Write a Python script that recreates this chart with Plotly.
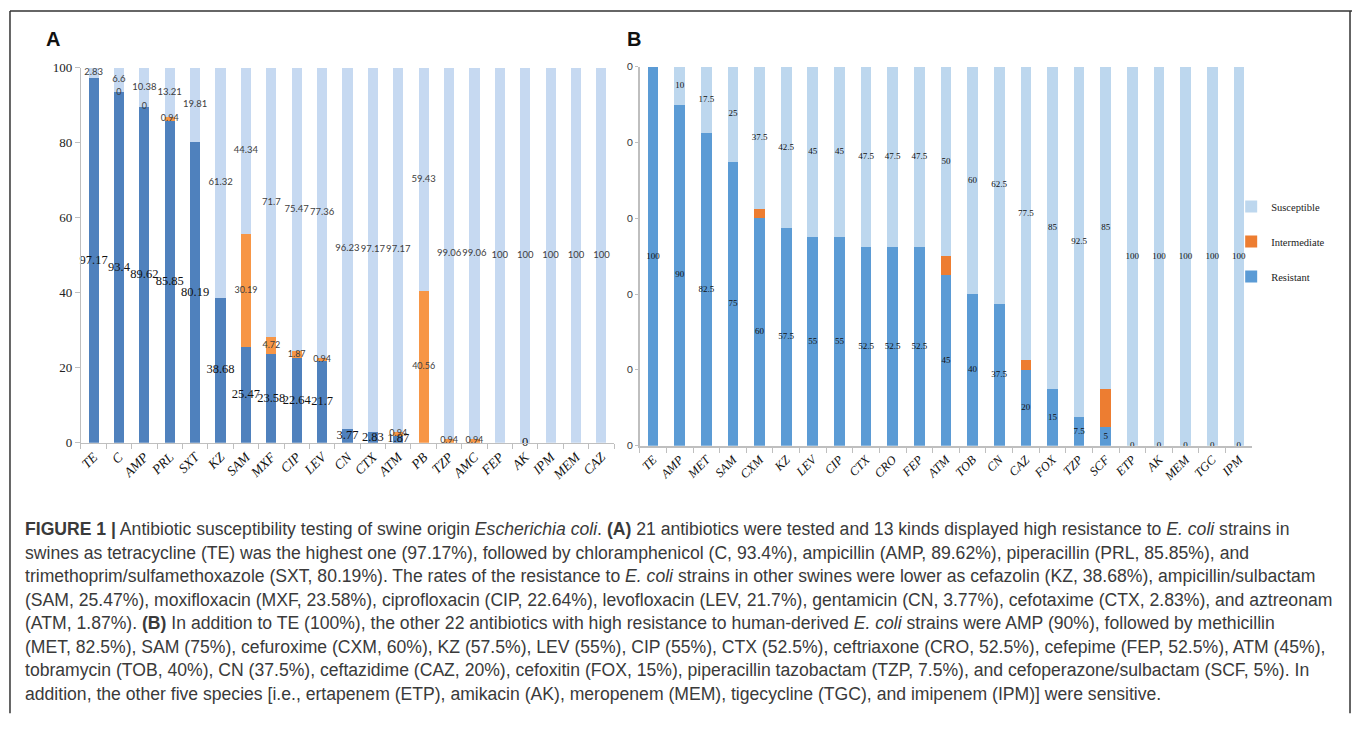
import plotly.graph_objects as go

# ---------------- Panel A: swine-origin E. coli ----------------
a_drugs = ["TE", "C", "AMP", "PRL", "SXT", "KZ", "SAM", "MXF", "CIP", "LEV", "CN",
           "CTX", "ATM", "PB", "TZP", "AMC", "FEP", "AK", "IPM", "MEM", "CAZ"]
a_resistant = [97.17, 93.4, 89.62, 85.85, 80.19, 38.68, 25.47, 23.58, 22.64, 21.7, 3.77,
               2.83, 1.87, 0, 0, 0, 0, 0, 0, 0, 0]
a_intermediate = [0, 0, 0, 0.94, 0, 0, 30.19, 4.72, 1.87, 0.94, 0,
                  0, 0.94, 40.56, 0.94, 0.94, 0, 0, 0, 0, 0]
a_susceptible = [2.83, 6.6, 10.38, 13.21, 19.81, 61.32, 44.34, 71.7, 75.47, 77.36, 96.23,
                 97.17, 97.17, 59.43, 99.06, 99.06, 100, 100, 100, 100, 100]
a_zero_int_shown = ["C", "AMP"]
a_zero_res_shown = ["AK"]

# ---------------- Panel B: human-derived E. coli ----------------
b_drugs = ["TE", "AMP", "MET", "SAM", "CXM", "KZ", "LEV", "CIP", "CTX", "CRO", "FEP", "ATM",
           "TOB", "CN", "CAZ", "FOX", "TZP", "SCF", "ETP", "AK", "MEM", "TGC", "IPM"]
b_resistant = [100, 90, 82.5, 75, 60, 57.5, 55, 55, 52.5, 52.5, 52.5, 45,
               40, 37.5, 20, 15, 7.5, 5, 0, 0, 0, 0, 0]
b_intermediate = [0, 0, 0, 0, 2.5, 0, 0, 0, 0, 0, 0, 5,
                  0, 0, 2.5, 0, 0, 10, 0, 0, 0, 0, 0]
b_susceptible = [0, 10, 17.5, 25, 37.5, 42.5, 45, 45, 47.5, 47.5, 47.5, 50,
                 60, 62.5, 77.5, 85, 92.5, 85, 100, 100, 100, 100, 100]

y_ticks = [0, 20, 40, 60, 80, 100]
b_tick_text = ["0", "0", "0", "0", "0", "0"]

caption_lines = [
    "<b>FIGURE 1 |</b> Antibiotic susceptibility testing of swine origin <i>Escherichia coli</i>. <b>(A)</b> 21 antibiotics were tested and 13 kinds displayed high resistance to <i>E. coli</i> strains in",
    "swines as tetracycline (TE) was the highest one (97.17%), followed by chloramphenicol (C, 93.4%), ampicillin (AMP, 89.62%), piperacillin (PRL, 85.85%), and",
    "trimethoprim/sulfamethoxazole (SXT, 80.19%). The rates of the resistance to <i>E. coli</i> strains in other swines were lower as cefazolin (KZ, 38.68%), ampicillin/sulbactam",
    "(SAM, 25.47%), moxifloxacin (MXF, 23.58%), ciprofloxacin (CIP, 22.64%), levofloxacin (LEV, 21.7%), gentamicin (CN, 3.77%), cefotaxime (CTX, 2.83%), and aztreonam",
    "(ATM, 1.87%). <b>(B)</b> In addition to TE (100%), the other 22 antibiotics with high resistance to human-derived <i>E. coli</i> strains were AMP (90%), followed by methicillin",
    "(MET, 82.5%), SAM (75%), cefuroxime (CXM, 60%), KZ (57.5%), LEV (55%), CIP (55%), CTX (52.5%), ceftriaxone (CRO, 52.5%), cefepime (FEP, 52.5%), ATM (45%),",
    "tobramycin (TOB, 40%), CN (37.5%), ceftazidime (CAZ, 20%), cefoxitin (FOX, 15%), piperacillin tazobactam (TZP, 7.5%), and cefoperazone/sulbactam (SCF, 5%). In",
    "addition, the other five species [i.e., ertapenem (ETP), amikacin (AK), meropenem (MEM), tigecycline (TGC), and imipenem (IPM)] were sensitive.",
]

W, H = 1357, 729
def px(x):
    return x / W
def py(y):
    return 1 - y / H

SERIF = "Liberation Serif, Times New Roman, serif"
SANS = "Liberation Sans, Arial, sans-serif"
LATO = "Lato, Carlito, Calibri, sans-serif"

def fmt(v):
    return f"{v:g}"

fig = go.Figure()

# ---- Panel A bars ----
A_COL = {"Resistant": "#4F81BD", "Intermediate": "#F79646", "Susceptible": "#C6D9F1"}
for name, vals in [("Resistant", a_resistant), ("Intermediate", a_intermediate),
                   ("Susceptible", a_susceptible)]:
    fig.add_trace(go.Bar(x=a_drugs, y=vals, name=name, marker_color=A_COL[name],
                         marker_line_width=0, width=0.4, showlegend=False,
                         xaxis="x", yaxis="y"))

# Panel A labels
res_x, res_y, res_t = [], [], []
int_x, int_y, int_t = [], [], []
sus_x, sus_y, sus_t = [], [], []
for d, r, i, s in zip(a_drugs, a_resistant, a_intermediate, a_susceptible):
    if r > 0 or d in a_zero_res_shown:
        res_x.append(d); res_y.append(r / 2); res_t.append(fmt(r))
    if i > 0 or d in a_zero_int_shown:
        int_x.append(d); int_y.append(r + i / 2); int_t.append(fmt(i))
    sus_x.append(d); sus_y.append(r + i + s / 2); sus_t.append(fmt(s))

fig.add_trace(go.Scatter(x=res_x, y=res_y, text=res_t, mode="text", showlegend=False,
                         textfont=dict(family=SERIF, size=12.5, color="#111111"),
                         hoverinfo="skip", cliponaxis=False, xaxis="x", yaxis="y"))
fig.add_trace(go.Scatter(x=int_x, y=int_y, text=int_t, mode="text", showlegend=False,
                         textfont=dict(family=LATO, size=9, color="#404040"),
                         hoverinfo="skip", cliponaxis=False, xaxis="x", yaxis="y"))
fig.add_trace(go.Scatter(x=sus_x, y=sus_y, text=sus_t, mode="text", showlegend=False,
                         textfont=dict(family=LATO, size=9.5, color="#404040"),
                         hoverinfo="skip", cliponaxis=False, xaxis="x", yaxis="y"))

# ---- Panel B bars ----
B_COL = {"Resistant": "#5B9BD5", "Intermediate": "#ED7D31", "Susceptible": "#BDD7EE"}
B_RANK = {"Susceptible": 1, "Intermediate": 2, "Resistant": 3}
for name, vals in [("Resistant", b_resistant), ("Intermediate", b_intermediate),
                   ("Susceptible", b_susceptible)]:
    fig.add_trace(go.Bar(x=b_drugs, y=vals, name=name, marker_color=B_COL[name],
                         marker_line_width=0, width=0.4, showlegend=True,
                         legendgroup=name, legendrank=B_RANK[name],
                         xaxis="x2", yaxis="y2"))

bres_x, bres_y, bres_t = [], [], []
bsus_x, bsus_y, bsus_t = [], [], []
for d, r, i, s in zip(b_drugs, b_resistant, b_intermediate, b_susceptible):
    bres_x.append(d); bres_y.append(r / 2); bres_t.append(fmt(r))
    if s > 0:
        bsus_x.append(d); bsus_y.append(r + i + s / 2); bsus_t.append(fmt(s))

fig.add_trace(go.Scatter(x=bres_x, y=bres_y, text=bres_t, mode="text", showlegend=False,
                         textfont=dict(family=SERIF, size=9, color="#111111"),
                         hoverinfo="skip", cliponaxis=False, xaxis="x2", yaxis="y2"))
fig.add_trace(go.Scatter(x=bsus_x, y=bsus_y, text=bsus_t, mode="text", showlegend=False,
                         textfont=dict(family=SERIF, size=9, color="#111111"),
                         hoverinfo="skip", cliponaxis=False, xaxis="x2", yaxis="y2"))

axis_common = dict(showgrid=False, zeroline=False, showline=True, linecolor="#BFBFBF",
                   ticks="outside", tickcolor="#BFBFBF", fixedrange=True)

fig.update_layout(
    width=W, height=H,
    margin=dict(l=0, r=0, t=0, b=0),
    paper_bgcolor="white", plot_bgcolor="white",
    barmode="stack",
    xaxis=dict(domain=[px(79), px(613)], anchor="y", type="category",
               categoryorder="array", categoryarray=a_drugs, range=[-0.5, len(a_drugs) - 0.5],
               tickangle=-45, tickson="boundaries", ticklen=5, linewidth=1,
               tickfont=dict(family=SERIF, size=13.5, color="#111111", style="italic"),
               **axis_common),
    yaxis=dict(domain=[py(445), py(62)], anchor="x", range=[0, 100], tickvals=y_ticks,
               ticklen=5, linewidth=1,
               tickfont=dict(family=SERIF, size=13, color="#222222"), **axis_common),
    xaxis2=dict(domain=[px(638.7), px(1252)], anchor="y2", type="category",
                categoryorder="array", categoryarray=b_drugs, range=[-0.5, len(b_drugs) - 0.5],
                tickangle=-45, tickson="boundaries", ticklen=5, linewidth=1.5,
                tickfont=dict(family=SERIF, size=12.5, color="#111111", style="italic"),
                **axis_common),
    yaxis2=dict(domain=[py(448), py(61)], anchor="x2", range=[0, 100], tickvals=y_ticks,
                ticktext=b_tick_text, ticklen=3, linewidth=2,
                tickfont=dict(family=LATO, size=10, color="#333333"), **axis_common),
    legend=dict(x=px(1231), y=py(189), xanchor="left", yanchor="top",
                traceorder="grouped", tracegroupgap=16,
                font=dict(family=SERIF, size=10.5, color="#222222"),
                bgcolor="rgba(0,0,0,0)"),
    font=dict(family=SANS),
)

annotations = [
    dict(text="<b>A</b>", x=px(42), y=py(33), xanchor="left", yanchor="middle",
         font=dict(family=SANS, size=20, color="#111111")),
    dict(text="<b>B</b>", x=px(624), y=py(33), xanchor="left", yanchor="middle",
         font=dict(family=SANS, size=20, color="#111111")),
]
for k, line in enumerate(caption_lines):
    annotations.append(dict(text=line, x=px(21), y=py(533 + 24 * k), xanchor="left",
                            yanchor="middle",
                            font=dict(family=SANS, size=17.6, color="#3a3a3a")))
for a in annotations:
    a.update(xref="paper", yref="paper", showarrow=False)
fig.update_layout(annotations=annotations)

# Figure frame
frame = dict(type="line", xref="paper", yref="paper", line=dict(color="#333333", width=1.5))
fig.add_shape(x0=px(8), x1=px(1352), y0=py(4), y1=py(4), **frame)
fig.add_shape(x0=px(8), x1=px(8), y0=py(4), y1=py(721), **frame)
fig.add_shape(x0=px(1350), x1=px(1350), y0=py(4), y1=py(721), **frame)

fig.write_html("out.html", config={"displayModeBar": False},
               post_script="document.body.style.margin='0';")
